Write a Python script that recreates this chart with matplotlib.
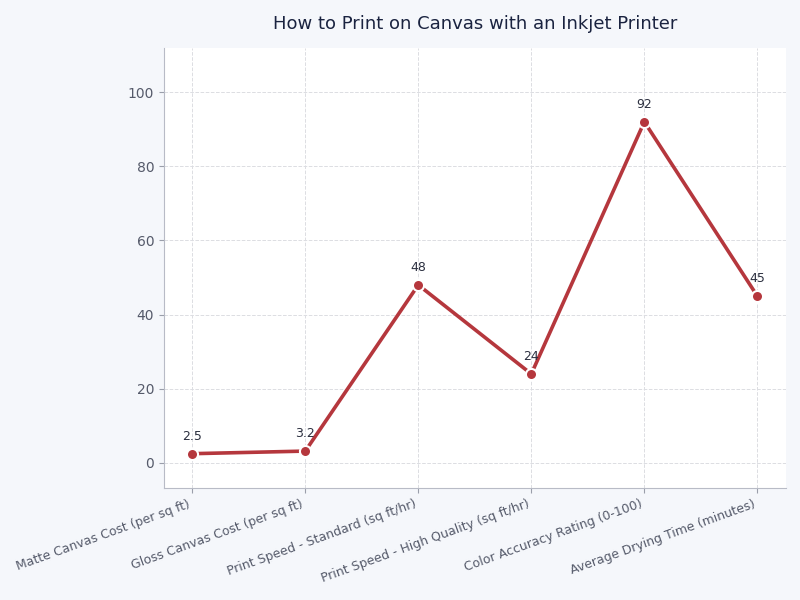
import matplotlib
matplotlib.use("Agg")
import matplotlib.pyplot as plt

categories = [
    "Matte Canvas Cost (per sq ft)",
    "Gloss Canvas Cost (per sq ft)",
    "Print Speed - Standard (sq ft/hr)",
    "Print Speed - High Quality (sq ft/hr)",
    "Color Accuracy Rating (0-100)",
    "Average Drying Time (minutes)",
]
values = [2.5, 3.2, 48, 24, 92, 45]
value_labels = ["2.5", "3.2", "48", "24", "92", "45"]
title = "How to Print on Canvas with an Inkjet Printer"

bg = "#f5f7fb"
line_color = "#b5373d"

fig = plt.figure(figsize=(8, 6), dpi=100, facecolor=bg)
ax = fig.add_axes([0.205, 0.187, 0.777, 0.733])
ax.set_facecolor("white")

x = list(range(len(categories)))
ax.plot(x, values, color=line_color, linewidth=2.6, marker="o", markersize=8,
        markerfacecolor=line_color, markeredgecolor="white", markeredgewidth=1.5,
        zorder=3)
for xi, v, lab in zip(x, values, value_labels):
    ax.annotate(lab, (xi, v), xytext=(0, 8), textcoords="offset points",
                ha="center", va="bottom", fontsize=9, color="#2b2f3f")

ax.set_xlim(-0.25, 5.25)
ax.set_ylim(-6.7, 111.9)
ax.set_yticks([0, 20, 40, 60, 80, 100])
ax.set_xticks(x)
ax.set_xticklabels(categories, rotation=20, ha="right", fontsize=9, color="#555a6a")
ax.tick_params(axis="y", labelsize=10, labelcolor="#555a6a", color="#9a9eaa")
ax.tick_params(axis="x", color="#9a9eaa")
ax.grid(True, linestyle="--", color="#dcdde2", linewidth=0.7)
ax.set_axisbelow(True)
for s in ["top", "right"]:
    ax.spines[s].set_visible(False)
for s in ["left", "bottom"]:
    ax.spines[s].set_color("#b8bbc6")
ax.set_title(title, fontsize=13, color="#1a2340", pad=14)

fig.savefig("out.png", dpi=100, facecolor=bg)
